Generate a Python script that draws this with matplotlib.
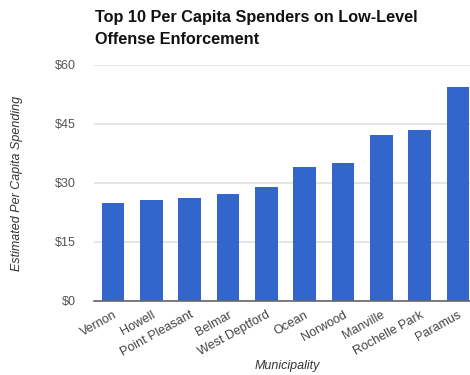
import matplotlib
matplotlib.use("Agg")
import matplotlib.pyplot as plt

municipalities = ["Vernon", "Howell", "Point Pleasant", "Belmar", "West Deptford",
                  "Ocean", "Norwood", "Manville", "Rochelle Park", "Paramus"]
spending = [24.7, 25.5, 26.1, 27.1, 28.9, 33.9, 34.9, 42.1, 43.4, 54.3]
y_ticks = [0, 15, 30, 45, 60]
y_tick_labels = ["$0", "$15", "$30", "$45", "$60"]

plt.rcParams["font.family"] = ["Liberation Sans", "DejaVu Sans"]

W, H = 470, 375
fig = plt.figure(figsize=(W / 100, H / 100), dpi=100)
ax = fig.add_axes([94 / W, 1 - 300.5 / H, 383 / W, (300.5 - 64.7) / H])

x = range(len(municipalities))
ax.bar(x, spending, width=0.59, color="#3366cc", zorder=3)

ax.set_xlim(-0.5, len(municipalities) - 0.5)
ax.set_ylim(0, 60)
ax.set_yticks(y_ticks)
ax.set_yticklabels(y_tick_labels, color="#555555", fontsize=9)
ax.set_xticks(list(x))
ax.set_xticklabels(municipalities, rotation=29, ha="right", rotation_mode="anchor",
                   color="#444444", fontsize=9)
ax.tick_params(axis="both", length=0)
ax.tick_params(axis="y", pad=13)
ax.tick_params(axis="x", pad=6)

ax.grid(axis="y", color="#e0e0e0", linewidth=1.2, zorder=0)
for side in ["top", "right", "left"]:
    ax.spines[side].set_visible(False)
ax.spines["bottom"].set_color("#666666")
ax.spines["bottom"].set_linewidth(1.2)
ax.spines["bottom"].set_zorder(4)

fig.text(17 / W, 1 - 183 / H, "Estimated Per Capita Spending", rotation=90,
         ha="center", va="center", style="italic", color="#333333", fontsize=9)
fig.text(287 / W, 1 - 366 / H, "Municipality", ha="center", va="center",
         style="italic", color="#333333", fontsize=9)
fig.text(95 / W, 1 - 10 / H, "Top 10 Per Capita Spenders on Low-Level\nOffense Enforcement",
         ha="left", va="top", fontweight="bold", color="#111111", fontsize=11.7,
         linespacing=1.55)

fig.savefig("out.png", dpi=100)
